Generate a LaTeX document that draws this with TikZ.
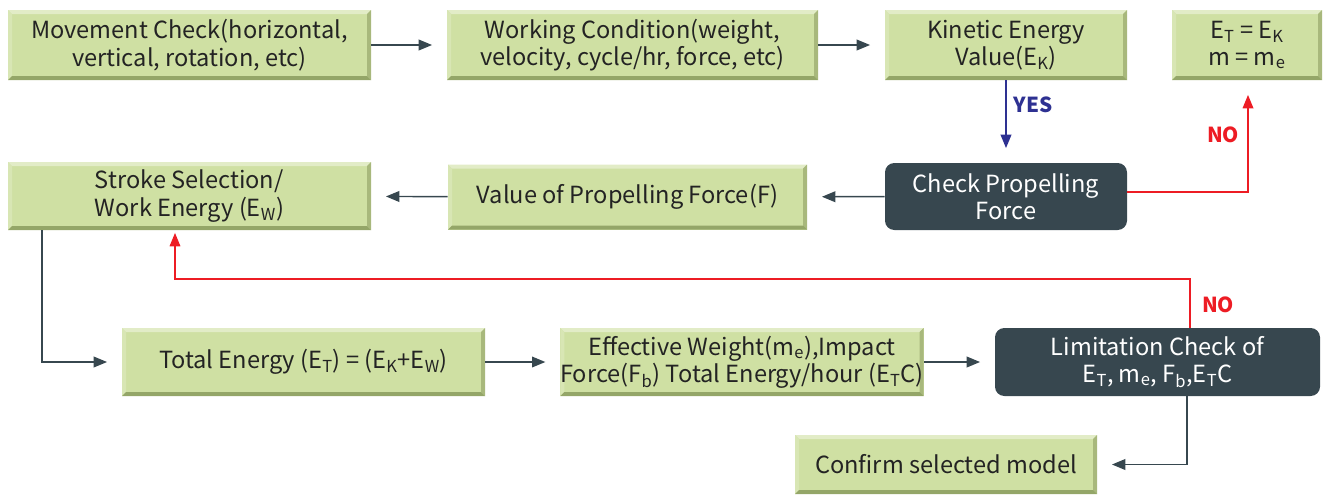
\documentclass[tikz,border=0pt]{standalone}
\usepackage{fontspec}
\setmainfont{Noto Sans CJK KR}
\usepackage{graphicx}
\usetikzlibrary{arrows.meta}

\definecolor{gfill}{RGB}{207,224,163}
\definecolor{gtop}{RGB}{226,236,199}
\definecolor{gleft}{RGB}{216,230,180}
\definecolor{gright}{RGB}{168,184,124}
\definecolor{gbottom}{RGB}{148,166,104}
\definecolor{darkbox}{RGB}{55,71,79}
\definecolor{txt}{RGB}{35,35,35}
\definecolor{nored}{RGB}{237,28,36}
\definecolor{yesblue}{RGB}{46,49,146}

\newcommand{\lowidx}[1]{\textsubscript{#1}}

\tikzset{
  greenbox/.style={fill=gfill, text=txt, align=center, inner sep=0pt,
    path picture={
      \path (path picture bounding box.south west) coordinate (sw)
            (path picture bounding box.north east) coordinate (ne);
      \fill[gtop] (sw|-ne) -- (ne) -- ([shift={(-3pt,-3pt)}]ne) -- ([shift={(3pt,-3pt)}]sw|-ne) -- cycle;
      \fill[gleft] (sw|-ne) -- ([shift={(3pt,-3pt)}]sw|-ne) -- ([shift={(3pt,3pt)}]sw) -- (sw) -- cycle;
      \fill[gright] (ne) -- (ne|-sw) -- ([shift={(-3pt,3pt)}]ne|-sw) -- ([shift={(-3pt,-3pt)}]ne) -- cycle;
      \fill[gbottom] (sw) -- (ne|-sw) -- ([shift={(-3pt,3pt)}]ne|-sw) -- ([shift={(3pt,3pt)}]sw) -- cycle;
    }},
  darkbox/.style={fill=darkbox, text=white, align=center, inner sep=0pt, rounded corners=7pt},
  flow/.style={-{Triangle[length=10pt,width=8pt]}, line width=1.1pt, draw=darkbox, shorten >=11pt},
  yesflow/.style={flow, draw=yesblue, -{Triangle[length=10pt,width=8pt]}},
  noflow/.style={flow, draw=nored, line width=0.9pt},
  yeslabel/.style={text=yesblue, font=\fontsize{15.5pt}{18pt}\selectfont\bfseries},
  nolabel/.style={text=nored, font=\fontsize{15.5pt}{18pt}\selectfont\bfseries}
}

\begin{document}
\begin{tikzpicture}[x=0.75pt, y=-0.75pt, font=\fontsize{17.7pt}{20.5pt}\selectfont]
  \useasboundingbox (0,0) rectangle (1323,494);

  \node[greenbox, minimum width=272.25pt, minimum height=52.5pt] (move) at (189.5,45)
    {Movement Check(horizontal,\\vertical, rotation, etc)};
  \node[greenbox, minimum width=278.25pt, minimum height=52.5pt] (work) at (632.5,45)
    {Working Condition(weight,\\velocity, cycle/hr, force, etc)};
  \node[greenbox, minimum width=181.5pt, minimum height=52.5pt] (kin) at (1006,45)
    {Kinetic Energy\\Value(E\lowidx{K})};
  \node[greenbox, minimum width=112.5pt, minimum height=52.5pt] (eteq) at (1247,45)
    {E\lowidx{T} = E\lowidx{K}\\m = m\lowidx{e}};

  \node[darkbox, minimum width=181.5pt, minimum height=50.25pt] (check) at (1006,196.5)
    {Check Propelling\\Force};
  \node[greenbox, minimum width=269.25pt, minimum height=48.75pt] (value) at (627.5,197)
    {Value of Propelling Force(F)};
  \node[greenbox, minimum width=272.25pt, minimum height=51pt, align=left] (stroke) at (189.5,196)
    {Stroke Selection/\\Work Energy (E\lowidx{W})};

  \node[greenbox, minimum width=272.25pt, minimum height=51pt] (total) at (303.5,362)
    {Total Energy (E\lowidx{T}) = (E\lowidx{K}+E\lowidx{W})};
  \node[greenbox, minimum width=270pt, minimum height=51pt] (eff) at (742,362)
    {Effective Weight(m\lowidx{e}),Impact\\
     Force(F\lowidx{b}) Total Energy/hour (E\lowidx{T}C)};
  \node[darkbox, minimum width=243.75pt, minimum height=51pt] (lim) at (1157.5,362)
    {Limitation Check of\\E\lowidx{T}, m\lowidx{e}, F\lowidx{b},E\lowidx{T}C};
  \node[greenbox, minimum width=226.5pt, minimum height=44.25pt] (confirm) at (946,464.5)
    {Confirm selected model};

  \coordinate (leftdrop) at (42,362);
  \coordinate (rightdrop) at (1187,466);
  \coordinate (noA) at (1190,279);
  \coordinate (noB) at (175,279);
  \coordinate (noC) at (1248,192);

  \foreach \a/\b in {move/work,work/kin,check/value,value/stroke,total/eff,eff/lim} {
    \draw[flow] (\a) -- (\b);
  }
  \draw[flow] (stroke.south -| leftdrop) |- (total);
  \draw[flow] (lim.south -| rightdrop) |- (confirm);
  \draw[yesflow] (kin) -- (check);
  \draw[noflow] (check.east |- noC) -- (noC) -- (eteq.south -| noC);
  \draw[noflow, shorten >=2pt] (lim.north -| noA) -- (noA) -- (noB) -- (stroke.south -| noB);

  \node[yeslabel] (yes) at (1033,105) {YES};
  \node[nolabel] (no1) at (1223,135) {NO};
  \node[nolabel] (no2) at (1218,305) {NO};
\end{tikzpicture}
\end{document}
